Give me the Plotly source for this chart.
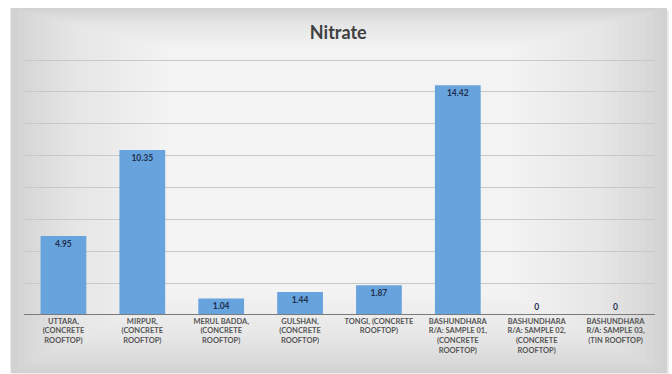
import plotly.graph_objects as go

# Nitrate concentration per sampling site
sites = [
    "UTTARA,<br>(CONCRETE<br>ROOFTOP)",
    "MIRPUR,<br>(CONCRETE<br>ROOFTOP)",
    "MERUL BADDA,<br>(CONCRETE<br>ROOFTOP)",
    "GULSHAN,<br>(CONCRETE<br>ROOFTOP)",
    "TONGI, (CONCRETE<br>ROOFTOP)",
    "BASHUNDHARA<br>R/A: SAMPLE 01,<br>(CONCRETE<br>ROOFTOP)",
    "BASHUNDHARA<br>R/A: SAMPLE 02,<br>(CONCRETE<br>ROOFTOP)",
    "BASHUNDHARA<br>R/A: SAMPLE 03,<br>(TIN ROOFTOP)",
]
nitrate = [4.95, 10.35, 1.04, 1.44, 1.87, 14.42, 0, 0]
value_labels = ["4.95", "10.35", "1.04", "1.44", "1.87", "14.42", "0", "0"]
y_max, y_step = 16, 2

W, H = 672, 374
L, R, T, B = 23.5, 17, 57, 59
pw, ph = W - L - R, H - T - B
# leave a few pixels above the top gridline so it is not clipped
y_top = y_max * ph / (ph - 3)


def px_x(p):
    return (p - L) / pw


def px_y(p):
    return (H - B - p) / ph


fig = go.Figure()
fig.add_trace(go.Bar(
    x=sites,
    y=nitrate,
    text=value_labels,
    textposition=["inside" if v > 0 else "outside" for v in nitrate],
    insidetextanchor="end",
    textangle=0,
    constraintext="none",
    cliponaxis=False,
    textfont=dict(family="Lato", size=8.5, color="#1f2f4f", weight="bold"),
    marker=dict(color="#67a3dc", line=dict(width=0)),
    hoverinfo="skip",
))

# Chart panel: drop shadow, grey base, then a smooth light vignette
shapes = [dict(type="rect", xref="paper", yref="paper",
               x0=px_x(12), x1=px_x(669), y0=px_y(376), y1=px_y(10),
               fillcolor="rgba(0,0,0,0.08)", line_width=0, layer="below"),
          dict(type="rect", xref="paper", yref="paper",
               x0=px_x(10), x1=px_x(667), y0=px_y(373), y1=px_y(8),
               fillcolor="#d2d2d2", line_width=0, layer="below")]
for i in range(1, 26):
    dx, dy = 7 * i, 3 * i
    shapes.append(dict(type="rect", xref="paper", yref="paper",
                       x0=px_x(10 + dx), x1=px_x(667 - dx),
                       y0=px_y(373 - dy * 1.2), y1=px_y(8 + dy * 0.6),
                       fillcolor="rgba(255,255,255,0.075)", line_width=0,
                       layer="below"))
# baseline
shapes.append(dict(type="line", xref="paper", yref="y", x0=0, x1=1, y0=0, y1=0,
                   line=dict(color="#7a7a7a", width=2), layer="above"))

fig.update_layout(
    width=W, height=H,
    margin=dict(l=L, r=R, t=T, b=B, pad=0),
    paper_bgcolor="white",
    plot_bgcolor="rgba(0,0,0,0)",
    bargap=0.42,
    showlegend=False,
    shapes=shapes,
    title=dict(text="<b>Nitrate</b>", x=px_x(338), xref="paper", xanchor="center",
               y=1 - 33 / H, yanchor="middle",
               font=dict(family="Lato", size=18, color="#404040")),
    xaxis=dict(showgrid=False, showline=False, ticks="",
               tickfont=dict(family="Lato", size=7.5, color="#555555",
                             weight="bold"),
               tickangle=0, automargin=False),
    yaxis=dict(range=[0, y_top], tick0=0, dtick=y_step, showticklabels=False,
               showgrid=True, gridcolor="#c8c8c8", gridwidth=1, zeroline=False,
               showline=False, automargin=False),
    font=dict(family="Lato"),
)

fig.write_html("out.html")
